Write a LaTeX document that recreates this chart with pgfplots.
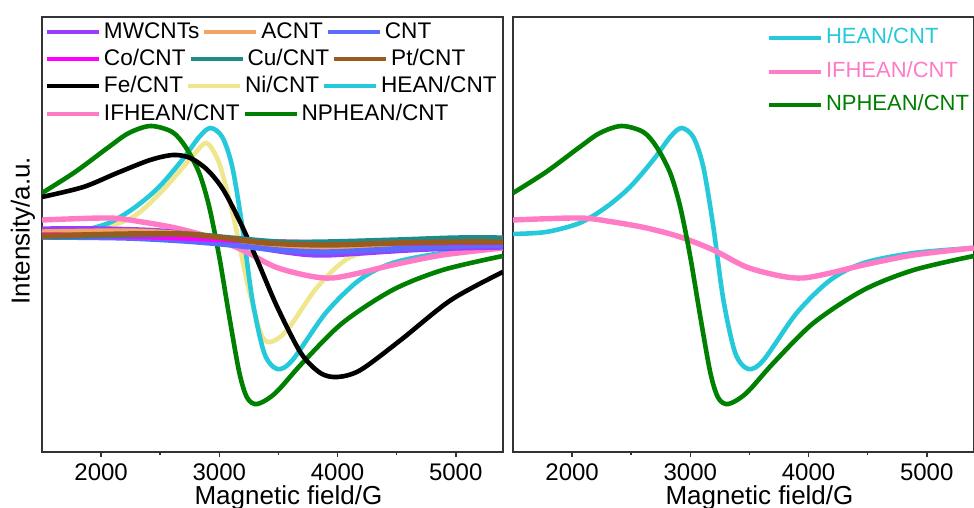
\documentclass[border=0pt]{standalone}
\usepackage{fontspec}
\setmainfont{Liberation Sans}
\usepackage{pgfplots}
\pgfplotsset{compat=1.18}
\definecolor{mwc}{HTML}{9B3DFF}
\definecolor{acnt}{HTML}{F4A460}
\definecolor{cnt}{HTML}{5C6BFF}
\definecolor{coc}{HTML}{FF00FF}
\definecolor{cuc}{HTML}{1F8A8A}
\definecolor{ptc}{HTML}{9A5B1E}
\definecolor{nic}{HTML}{F0E68C}
\definecolor{hean}{HTML}{26C9DA}
\definecolor{ifhean}{HTML}{FF7BC5}
\definecolor{nphean}{HTML}{008000}
\definecolor{axgray}{HTML}{333333}

\pgfplotstableread{
x y
1500 258
1780 279
2065 304
2235 318
2418 325
2602 319
2715 304
2830 278
2915 244
3000 194
3085 134
3170 78
3237 53
3322 47
3475 58
3703 88
4042 128
4466 161
4890 181
5398 195
}\npheandata
\pgfplotstableread{
x y
1500 217
1780 219
2065 228
2290 244
2490 264
2686 291
2830 314
2925 323
3025 314
3110 284
3195 224
3280 151
3380 98
3490 82
3620 91
3900 138
4185 171
4466 188
4890 198
5398 203
}\heandata
\pgfplotstableread{
x y
1500 231
2065 233
2347 229
2630 223
2915 214
3195 201
3475 184
3763 175
3957 173
4185 178
4466 186
4890 196
5398 203
}\ifheandata
\pgfplotstableread{
x y
1500 254
1850 264
2135 278
2415 291
2610 296
2755 293
2900 281
3035 261
3180 228
3320 191
3490 144
3690 98
3855 78
4000 74
4195 81
4535 111
4960 151
5398 179
}\fedata
\pgfplotstableread{
x y
1500 218
1990 223
2270 234
2500 258
2695 284
2840 304
2890 308
2940 302
3010 284
3120 234
3237 168
3350 118
3430 109
3575 121
3830 164
4110 194
4466 201
4750 204
5400 205
}\nidata
\pgfplotstableread{
x y
1500 222
2000 222
2500 220
2800 215
3100 209
3400 202
3700 197
3900 196
4200 198
4600 201
5000 203
5400 204
}\mwdata
\pgfplotstableread{
x y
1500 219
2200 220
2600 218
3000 213
3300 208
3700 204
4000 203
4500 205
5000 207
5400 208
}\acntdata
\pgfplotstableread{
x y
1500 214
2200 213
2700 210
3100 206
3500 201
3900 199
4300 201
4800 204
5400 206
}\cntdata
\pgfplotstableread{
x y
1500 216
2200 215
2700 213
3100 211
3500 209
4000 208
4500 208
5400 209
}\codata
\pgfplotstableread{
x y
1500 214
2200 216
2700 217
3100 213
3500 209
3900 209
4500 211
5000 213
5400 213
}\cudata
\pgfplotstableread{
x y
1500 215
2200 217
2700 217
3050 213
3400 208
3900 206
4500 208
5000 209
5400 209
}\ptdata

\pgfplotsset{
  base/.style={
    width=230.5pt, height=217.5pt, scale only axis,
    xmin=1500, xmax=5400, ymin=-1, ymax=434,
    xtick={2000,3000,4000,5000}, minor x tick num=1,
    ytick=\empty, xtick pos=bottom, tick align=outside,
    major tick length=2.4pt, minor tick length=1.3pt,
    axis line style={draw=axgray, line width=0.9pt},
    every tick/.append style={draw=axgray, line width=0.8pt},
    scaled x ticks=false,
    /pgf/number format/set thousands separator={},
    /pgf/number format/assume math mode=true,
    xticklabel style={font=\fontsize{12}{14}\selectfont, inner sep=0pt, anchor=north, yshift=-3.5pt},
    xlabel={Magnetic field/G},
    xlabel style={font=\fontsize{13}{15}\selectfont, inner sep=0pt, at={(axis description cs:0.5,0)}, anchor=north, yshift=-16.5pt, xshift=8pt},
    clip=true,
  },
  crv/.style={line width=2.3pt, smooth},
  flat/.style={line width=2.7pt, smooth},
  legrow/.style={
    width=230.5pt, height=217.5pt, scale only axis, hide axis,
    xmin=0, xmax=1, ymin=0, ymax=1,
    legend columns=-1,
    legend image code/.code={\draw[line width=2pt] (0pt,0pt) -- (26pt,0pt);},
    legend style={draw=none, fill=none, inner sep=0pt, outer sep=0pt,
      font=\fontsize{11.3}{13}\selectfont, anchor=west,
      nodes={inner xsep=1.5pt, inner ysep=0pt},
      /tikz/every even column/.append style={column sep=0pt}},
  },
}

\begin{document}
\begin{tikzpicture}
% left panel
\begin{axis}[base, at={(0pt,0pt)}, anchor=south west,
  ylabel={Intensity/a.u.},
  ylabel style={font=\fontsize{13}{15}\selectfont, inner sep=0pt, at={(axis description cs:-0.0412,0.509)}, anchor=center}]
\addplot[crv, nic] table {\nidata};
\addplot[crv, hean] table {\heandata};
\addplot[flat, ifhean] table {\ifheandata};
\addplot[crv, nphean] table {\npheandata};
\addplot[crv, black] table {\fedata};
\addplot[flat, mwc] table {\mwdata};
\addplot[flat, acnt] table {\acntdata};
\addplot[flat, cnt] table {\cntdata};
\addplot[flat, coc] table {\codata};
\addplot[flat, cuc] table {\cudata};
\addplot[flat, ptc] table {\ptdata};
\end{axis}
% left legend rows
\begin{axis}[legrow, at={(0pt,0pt)}, anchor=south west, legend style={at={(axis description cs:0.0065,0.9655)}}]
\addlegendimage{mwc}\addlegendentry{MWCNTs}
\addlegendimage{acnt}\addlegendentry{ACNT}
\addlegendimage{cnt}\addlegendentry{CNT}
\end{axis}
\begin{axis}[legrow, at={(0pt,0pt)}, anchor=south west, legend style={at={(axis description cs:0.0065,0.903)}}]
\addlegendimage{coc}\addlegendentry{Co/CNT}
\addlegendimage{cuc}\addlegendentry{Cu/CNT}
\addlegendimage{ptc}\addlegendentry{Pt/CNT}
\end{axis}
\begin{axis}[legrow, at={(0pt,0pt)}, anchor=south west, legend style={at={(axis description cs:0.0065,0.841)}}]
\addlegendimage{black}\addlegendentry{Fe/CNT}
\addlegendimage{nic}\addlegendentry{Ni/CNT}
\addlegendimage{hean}\addlegendentry{HEAN/CNT}
\end{axis}
\begin{axis}[legrow, at={(0pt,0pt)}, anchor=south west, legend style={at={(axis description cs:0.0065,0.778)}}]
\addlegendimage{ifhean}\addlegendentry{IFHEAN/CNT}
\addlegendimage{nphean}\addlegendentry{NPHEAN/CNT}
\end{axis}
% right panel
\begin{axis}[base, at={(235.5pt,0pt)}, anchor=south west,
  legend cell align=left,
  legend image code/.code={\draw[line width=2pt] (0pt,0pt) -- (26pt,0pt);},
  legend style={draw=none, fill=none, inner sep=0pt, outer sep=0pt,
    font=\fontsize{11}{13}\selectfont, anchor=west, at={(axis description cs:0.551,0.8747)},
    nodes={inner xsep=1.5pt, inner ysep=0pt, text height=8pt, text depth=2.5pt},
    row sep=6.25pt}]
\addplot[crv, hean] table {\heandata};
\addlegendentry{\textcolor{hean}{HEAN/CNT}}
\addplot[flat, ifhean] table {\ifheandata};
\addlegendentry{\textcolor{ifhean}{IFHEAN/CNT}}
\addplot[crv, nphean] table {\npheandata};
\addlegendentry{\textcolor{nphean}{NPHEAN/CNT}}
\end{axis}
\pgfresetboundingbox
\path[use as bounding box] (-21pt,-28pt) rectangle (466pt,226pt);
\end{tikzpicture}
\end{document}
